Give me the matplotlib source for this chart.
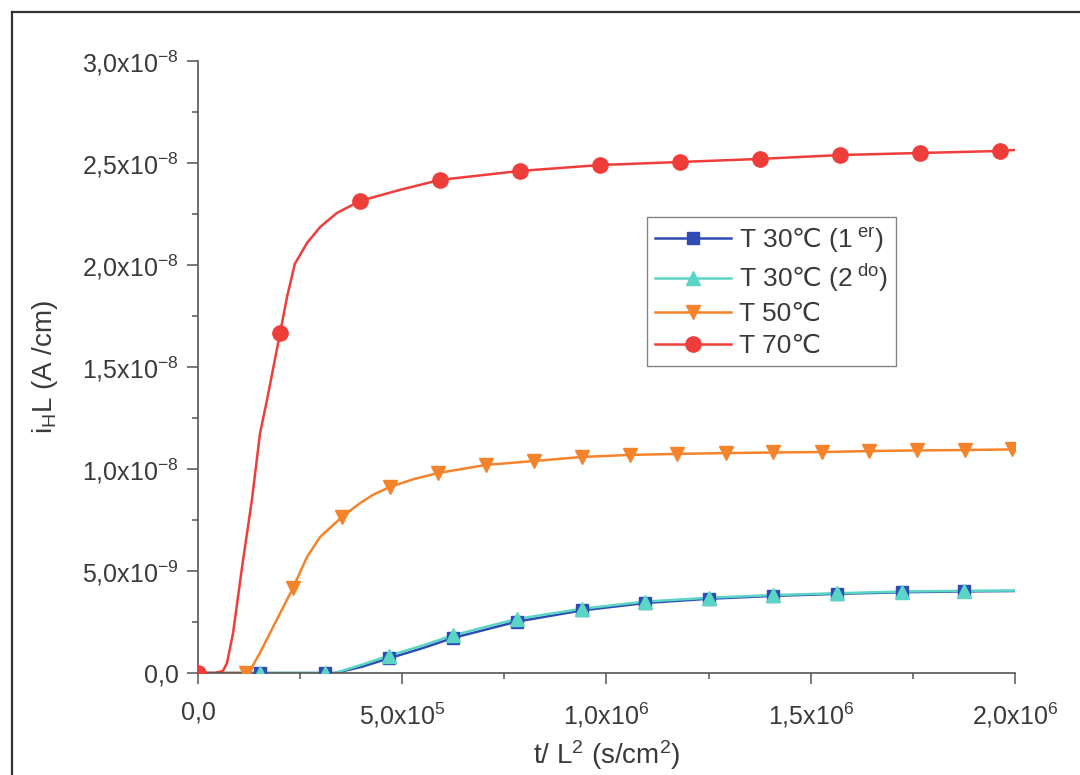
import matplotlib
matplotlib.use("Agg")
import matplotlib.pyplot as plt
from matplotlib.lines import Line2D

plt.rcParams['font.family'] = ['Liberation Sans', 'DejaVu Sans']
plt.rcParams['mathtext.fontset'] = 'custom'
plt.rcParams['mathtext.rm'] = 'Liberation Sans'
plt.rcParams['mathtext.it'] = 'Liberation Sans:italic'
plt.rcParams['mathtext.bf'] = 'Liberation Sans:bold'
plt.rcParams['mathtext.sf'] = 'DejaVu Sans'  # only used for the degree sign

# values, y in units of 1e-9 A/cm
# T 70C
red_x = [0, 4.2e4, 6.1e4, 7.1e4, 8.6e4, 1.08e5, 1.32e5, 1.52e5, 1.69e5, 2.01e5, 2.18e5,
         2.37e5, 2.67e5, 2.99e5, 3.40e5, 3.97e5, 4.94e5, 5.92e5, 7.88e5, 9.84e5, 1.18e6,
         1.376e6, 1.572e6, 1.767e6, 1.963e6, 2.0e6]
red_y = [0, 0, 0.1, 0.49, 1.96, 5.2, 8.48, 11.76, 13.38, 16.67, 18.43,
         20.05, 21.08, 21.86, 22.55, 23.14, 23.68, 24.17, 24.61, 24.90, 25.05,
         25.2, 25.39, 25.49, 25.59, 25.64]
red_mx = [0, 2.01e5, 3.97e5, 5.92e5, 7.88e5, 9.84e5, 1.18e6, 1.376e6, 1.572e6, 1.767e6, 1.963e6]
red_my = [0, 16.67, 23.14, 24.17, 24.61, 24.90, 25.05, 25.2, 25.39, 25.49, 25.59]

# T 50C
orange_x = [0, 1.0e5, 1.175e5, 1.27e5, 1.52e5, 2.326e5, 2.67e5, 2.99e5, 3.525e5, 3.97e5,
            4.28e5, 4.70e5, 5.29e5, 5.875e5, 7.05e5, 8.225e5, 9.40e5, 1.0575e6, 1.1725e6,
            1.2925e6, 1.4076e6, 1.5275e6, 1.6426e6, 1.760e6, 1.8776e6, 1.9927e6, 2.0e6]
orange_y = [0, 0, 0, 0.1, 1.0, 4.17, 5.69, 6.67, 7.65, 8.33,
            8.73, 9.12, 9.51, 9.80, 10.20, 10.39, 10.59, 10.69, 10.74,
            10.78, 10.81, 10.83, 10.88, 10.91, 10.93, 10.96, 10.97]
orange_mx = [1.175e5, 2.326e5, 3.525e5, 4.70e5, 5.875e5, 7.05e5, 8.225e5, 9.40e5, 1.0575e6,
             1.1725e6, 1.2925e6, 1.4076e6, 1.5275e6, 1.6426e6, 1.760e6, 1.8776e6, 1.9927e6]
orange_my = [0, 4.17, 7.65, 9.12, 9.80, 10.20, 10.39, 10.59, 10.69,
             10.74, 10.78, 10.81, 10.83, 10.88, 10.91, 10.93, 10.96]

# T 30C, 1er and 2do
c30_x = [0, 1.518e5, 3.109e5, 3.35e5, 4.0e5, 4.676e5, 5.5e5, 6.242e5, 7.809e5, 9.40e5,
         1.0943e6, 1.2509e6, 1.4076e6, 1.5643e6, 1.7234e6, 1.8752e6, 2.0e6]
blue_y = [0, 0, 0, 0, 0.3, 0.72, 1.22, 1.72, 2.52, 3.07,
          3.43, 3.64, 3.78, 3.88, 3.96, 4.00, 4.02]
cyan_y = [0, 0, 0, 0, 0.4, 0.85, 1.35, 1.85, 2.65, 3.15,
          3.50, 3.69, 3.82, 3.91, 3.99, 4.03, 4.04]
c30_mx = [1.518e5, 3.109e5, 4.676e5, 6.242e5, 7.809e5, 9.40e5, 1.0943e6, 1.2509e6,
          1.4076e6, 1.5643e6, 1.7234e6, 1.8752e6]
blue_my = [0, 0, 0.72, 1.72, 2.52, 3.07, 3.43, 3.64, 3.78, 3.88, 3.96, 4.00]
cyan_my = [0, 0, 0.85, 1.85, 2.65, 3.15, 3.50, 3.69, 3.82, 3.91, 3.99, 4.03]

labels = ["T 30$\\mathsf{℃}$ (1$^{\\rm\\ er}$)", "T 30$\\mathsf{℃}$ (2$^{\\rm\\ do}$)",
          "T 50℃", "T 70℃"]

xticks = [0, 5e5, 1e6, 1.5e6, 2e6]
xticklabels = ["0,0", "5,0x10$^{5}$", "1,0x10$^{6}$", "1,5x10$^{6}$", "2,0x10$^{6}$"]
yticks = [0, 5e-9, 1e-8, 1.5e-8, 2e-8, 2.5e-8, 3e-8]
yticklabels = ["0,0", "5,0x10$^{-9}$", "1,0x10$^{-8}$", "1,5x10$^{-8}$",
               "2,0x10$^{-8}$", "2,5x10$^{-8}$", "3,0x10$^{-8}$"]

c_blue = '#2e4cb3'
c_cyan = '#5ad5c6'
c_orange = '#f5832b'
c_red = '#ef3d3a'

sc = 1e-9

fig = plt.figure(figsize=(10.8, 7.75), dpi=100)
ax = fig.add_axes([0.1833, 0.1316, 0.7565, 0.7897])

series = [
    (c30_x, blue_y, c30_mx, blue_my, c_blue, 's', 8.5),
    (c30_x, cyan_y, c30_mx, cyan_my, c_cyan, '^', 9.5),
    (orange_x, orange_y, orange_mx, orange_my, c_orange, 'v', 10.5),
    (red_x, red_y, red_mx, red_my, c_red, 'o', 11),
]
handles = []
for (lx, ly, mx, my, col, mk, ms), lab in zip(series, labels):
    ax.plot(lx, [v * sc for v in ly], color=col, lw=1.8, zorder=2)
    ax.plot(mx, [v * sc for v in my], ls='none', marker=mk, ms=ms, color=col,
            mec=col, zorder=3)
    handles.append(Line2D([], [], color=col, lw=1.8, marker=mk, ms=ms, mec=col))

ax.set_xlim(0, 2e6)
ax.set_ylim(0, 3e-8)
ax.set_xticks(xticks)
ax.set_xticklabels(xticklabels)
ax.set_yticks(yticks)
ax.set_yticklabels(yticklabels)
ax.set_xticks([2.5e5, 7.5e5, 1.25e6, 1.75e6], minor=True)
ax.set_yticks([2.5e-9, 7.5e-9, 1.25e-8, 1.75e-8, 2.25e-8, 2.75e-8], minor=True)

for s in ['top', 'right']:
    ax.spines[s].set_visible(False)
for s in ['left', 'bottom']:
    ax.spines[s].set_color('#555555')
    ax.spines[s].set_linewidth(1.2)
ax.tick_params(which='major', length=8, width=1.1, color='#555555',
               labelsize=18, labelcolor='#3a3a3a', pad=6)
ax.tick_params(which='minor', length=4, width=1.1, color='#555555')
ax.tick_params(axis='x', pad=12)

ax.set_xlabel("t/ L$^{2}$ (s/cm$^{2}$)", fontsize=20, color='#3a3a3a', labelpad=6)
ax.set_ylabel("i$_{\\rm H}$L (A /cm)", fontsize=20, color='#3a3a3a', labelpad=16)

leg = ax.legend(handles, labels, loc='upper left', bbox_to_anchor=(0.5496, 0.745),
                fontsize=19, frameon=True, fancybox=False, handlelength=2.9,
                handletextpad=0.3, labelspacing=0.3, borderpad=0.3,
                borderaxespad=0)
leg.get_frame().set_edgecolor('#666666')
leg.get_frame().set_linewidth(1.0)
for t in leg.get_texts():
    t.set_color('#3a3a3a')

# scan frame, top and left edges
fig.add_artist(Line2D([12 / 1080, 1.0], [1 - 12 / 775, 1 - 12 / 775],
                      transform=fig.transFigure, color='#333333', lw=1.6))
fig.add_artist(Line2D([12 / 1080, 12 / 1080], [0, 1 - 12 / 775],
                      transform=fig.transFigure, color='#333333', lw=1.6))

fig.savefig("out.png", dpi=100)
